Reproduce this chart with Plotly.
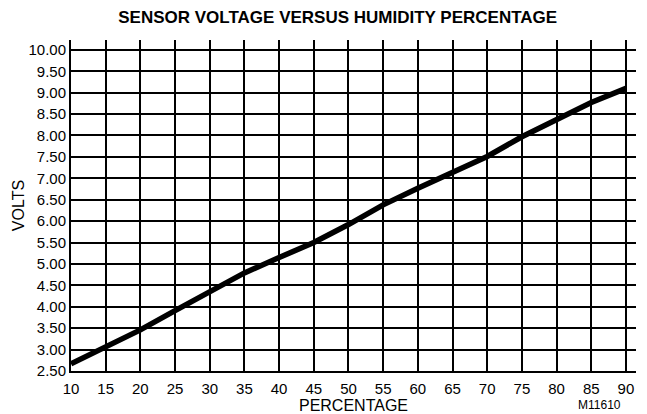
import plotly.graph_objects as go

# Relative humidity (%) and the sensor output voltage at each step
humidity_pct = [10, 15, 20, 25, 30, 35, 40, 45, 50, 55, 60, 65, 70, 75, 80, 85, 90]
sensor_volts = [2.67, 3.06, 3.46, 3.91, 4.36, 4.79, 5.15, 5.50, 5.92, 6.38,
                6.77, 7.13, 7.51, 7.97, 8.36, 8.77, 9.10]

x_ticks = list(range(10, 95, 5))
y_ticks = [2.5 + 0.5 * i for i in range(16)]
y_tick_text = [f"{v:.2f}" for v in y_ticks]

FONT = "Liberation Sans, Arial, sans-serif"

fig = go.Figure()
fig.add_trace(go.Scatter(
    x=humidity_pct, y=sensor_volts, mode="lines",
    line=dict(color="black", width=5.5),
    hoverinfo="skip", showlegend=False,
))

fig.update_layout(
    width=647, height=414,
    margin=dict(l=71, r=11, t=40, b=43),
    paper_bgcolor="white", plot_bgcolor="white",
    font=dict(family=FONT, color="black", size=14),
    title=dict(text="<b>SENSOR VOLTAGE VERSUS HUMIDITY PERCENTAGE</b>",
               x=0.522, xanchor="center", y=0.958, yanchor="middle",
               font=dict(family=FONT, size=17, color="black")),
    annotations=[dict(text="M11610", xref="paper", yref="paper",
                      x=0.935, y=-0.102, xanchor="center", yanchor="middle",
                      showarrow=False,
                      font=dict(family=FONT, size=12, color="black"))],
)

fig.update_xaxes(
    range=[10, 91.45], tickmode="array", tickvals=x_ticks,
    ticktext=[str(v) for v in x_ticks],
    showgrid=True, gridcolor="black", gridwidth=1.6,
    showline=True, linecolor="black", linewidth=2,
    zeroline=False, ticks="outside", ticklen=3, tickcolor="white",
    fixedrange=True, automargin=False,
    title=dict(text="PERCENTAGE", standoff=2, font=dict(family=FONT, size=16)),
    tickfont=dict(family=FONT, size=15),
)
fig.update_yaxes(
    range=[2.5, 10.23], tickmode="array", tickvals=y_ticks, ticktext=y_tick_text,
    showgrid=True, gridcolor="black", gridwidth=1.6,
    showline=True, linecolor="black", linewidth=2,
    zeroline=False, ticks="", fixedrange=True, automargin=False,
    title=dict(text="VOLTS", standoff=0, font=dict(family=FONT, size=16)),
    tickfont=dict(family=FONT, size=15),
)

fig.write_html("out.html")
